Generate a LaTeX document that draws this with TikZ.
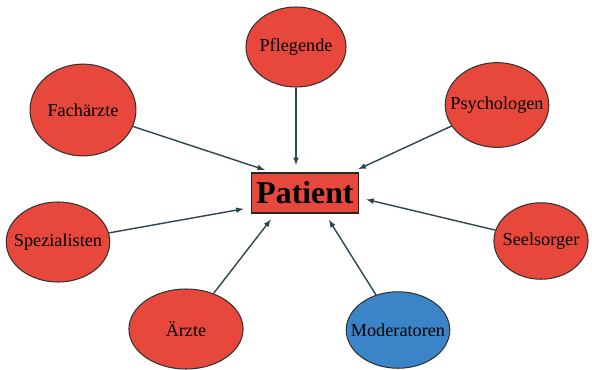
\documentclass[tikz,border=0pt]{standalone}
\usepackage{fontspec}
\setmainfont{Liberation Serif}
\usetikzlibrary{shapes.geometric}
\definecolor{nodered}{RGB}{232,72,60}
\definecolor{nodeblue}{RGB}{60,132,200}
\definecolor{linkgray}{RGB}{45,70,82}
\begin{document}
\begin{tikzpicture}[
	x=0.85pt,y=-0.85pt,
	role/.style={ellipse,draw=black!80,line width=0.9pt,fill=nodered,inner xsep=-16pt,inner ysep=0pt,font=\fontsize{15.5}{17}\selectfont},
	link/.style={line width=1.2pt,>=latex,draw=linkgray,->,shorten >=6pt}
]
\useasboundingbox (0,0) rectangle (592,369);
%\draw[help lines] (0,0) grid[step=50] (592,369);
	\node[draw=black!85,line width=1.5pt,fill=nodered,minimum width=91pt,minimum height=34pt,font=\fontsize{27}{30}\selectfont\bfseries] (pat) at (305,193) {Patient};

	\node[role,minimum width=85pt,minimum height=68pt] (pfl) at (296,47) {Pflegende};
	\node[role,minimum width=90pt,minimum height=78pt] (fach) at (83,110) {Fachärzte};
	\node[role,minimum width=88pt,minimum height=72pt] (psy) at (497,105) {Psychologen};
	\node[role,minimum width=88pt,minimum height=68pt] (spez) at (58,242) {Spezialisten};
	\node[role,minimum width=80pt,minimum height=65pt] (seel) at (541,241) {Seelsorger};
	\node[role,minimum width=97pt,minimum height=68pt] (arzt) at (186,329) {Ärzte};
	\node[role,fill=nodeblue,minimum width=88pt,minimum height=65pt] (mod) at (398,330) {Moderatoren};

	\draw[link] (pfl.south) -- (pfl.south |- pat.north);
	\draw[link] (fach) -- (pat.148);
	\draw[link] (psy) -- (pat.24);
	\draw[link] (spez) -- (pat.195);
	\draw[link] (seel) -- (pat.-5);
	\draw[link] (arzt) -- (pat.-145);
	\draw[link] (mod) -- (pat.-46);
\end{tikzpicture}
\end{document}
